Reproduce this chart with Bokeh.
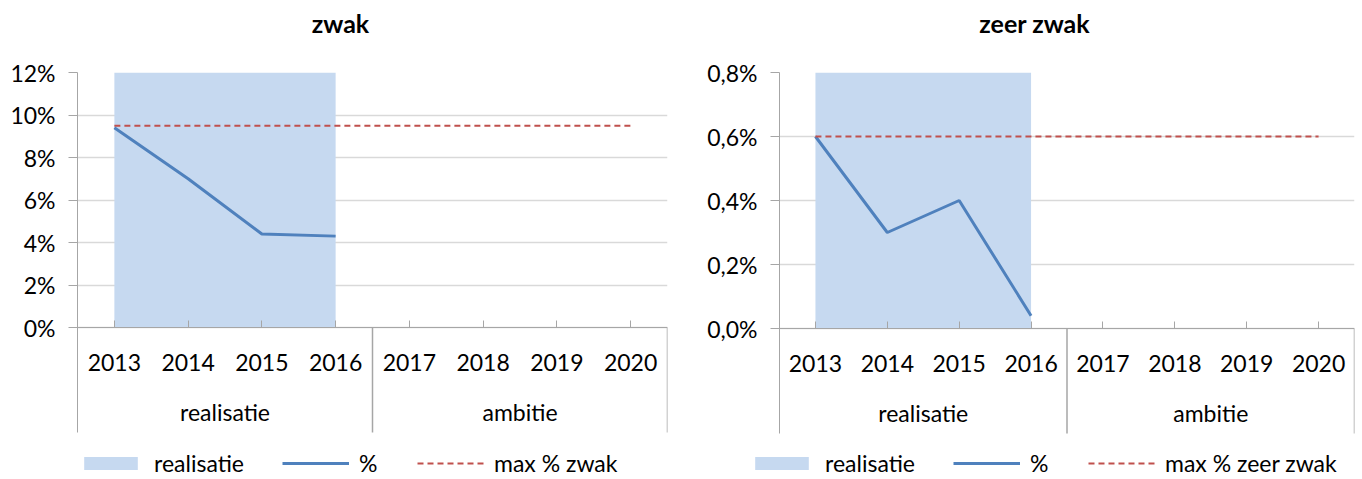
import numpy as np
from bokeh.plotting import figure
from bokeh.models import (FactorRange, Range1d, FixedTicker, CustomJSTickFormatter,
                          Legend, LegendItem, Div)
from bokeh.layouts import row, column
from bokeh.embed import file_html
from bokeh.resources import INLINE
from bokeh.core.properties import value

# ---------------- data ----------------
years = ["2013", "2014", "2015", "2016", "2017", "2018", "2019", "2020"]
groups = ["realisatie", "realisatie", "realisatie", "realisatie",
          "ambitie", "ambitie", "ambitie", "ambitie"]

nan = float("nan")
zwak_realisatie = [12, 12, 12, 12, nan, nan, nan, nan]
zwak_pct = [9.4, 7.0, 4.4, 4.3, nan, nan, nan, nan]
zwak_max = [9.5, 9.5, 9.5, 9.5, 9.5, 9.5, 9.5, 9.5]
zwak_ticks = [0, 2, 4, 6, 8, 10, 12]

zeer_realisatie = [0.8, 0.8, 0.8, 0.8, nan, nan, nan, nan]
zeer_pct = [0.6, 0.3, 0.4, 0.04, nan, nan, nan, nan]
zeer_max = [0.6, 0.6, 0.6, 0.6, 0.6, 0.6, 0.6, 0.6]
zeer_ticks = [0, 0.2, 0.4, 0.6, 0.8]

legend_labels_zwak = ["realisatie", "%", "max % zwak"]
legend_labels_zeer = ["realisatie", "%", "max % zeer zwak"]

FONT = "Lato"
FS = "23px"
AXIS_COL = "#a6a6a6"
GRID_COL = "#d9d9d9"
AREA_COL = "#c6d9f0"
BLUE = "#4f81bd"
RED = "#c0504d"

TITLE_H = 40     # title strip height
FIG_H = 408      # chart figure height
LEG_H = 30       # legend strip height
TOP = 32         # frame top inside chart figure


def make_chart(realisatie, pct, maxv, ticks, decimals,
               border_left, frame_w, border_right, px_per_unit):
    width = border_left + frame_w + border_right
    frame_h = FIG_H - TOP
    y_lo = ticks[-1] - frame_h / px_per_unit
    sep_lo = -105 / px_per_unit
    grp_y = -84 / px_per_unit
    p = figure(width=width, height=FIG_H, output_backend="svg", toolbar_location=None,
               x_range=FactorRange(factors=years, range_padding=0, factor_padding=0),
               y_range=Range1d(y_lo, ticks[-1]),
               min_border_left=border_left, min_border_right=border_right,
               min_border_top=TOP, min_border_bottom=0)
    p.outline_line_color = None
    p.background_fill_color = "white"
    p.border_fill_color = "white"

    # realisatie band
    mask = [not np.isnan(v) for v in realisatie]
    xs = [y for y, m in zip(years, mask) if m]
    p.varea(x=xs, y1=[0] * len(xs), y2=[v for v, m in zip(realisatie, mask) if m],
            fill_color=AREA_COL)
    # % line
    pm = [not np.isnan(v) for v in pct]
    p.line(x=[y for y, m in zip(years, pm) if m], y=[v for v, m in zip(pct, pm) if m],
           line_color=BLUE, line_width=3)
    # max line
    p.line(x=years, y=maxv, line_color=RED, line_width=2, line_dash="6 4")

    # group separators & labels
    bounds = [0] + [i for i in range(1, len(groups)) if groups[i] != groups[i - 1]] + [len(groups)]
    p.segment(x0=bounds[1:], y0=[0] * (len(bounds) - 1), x1=bounds[1:],
              y1=[sep_lo] * (len(bounds) - 1), line_color=AXIS_COL, line_width=1.5)
    gnames = [groups[b] for b in bounds[:-1]]
    gx = [(bounds[i] + bounds[i + 1]) / 2 for i in range(len(bounds) - 1)]
    p.text(x=gx, y=[grp_y] * len(gx), text=gnames, text_align="center",
           text_baseline="middle", text_font=value(FONT), text_font_size=FS,
           text_color="black")

    # x axis (categories) at y=0
    xa = p.xaxis[0]
    xa.fixed_location = 0
    xa.axis_line_color = AXIS_COL
    xa.major_tick_line_color = AXIS_COL
    xa.major_tick_in = 7
    xa.major_tick_out = 0
    xa.minor_tick_line_color = None
    xa.major_label_standoff = 26
    xa.major_label_text_font = FONT
    xa.major_label_text_font_size = FS
    xa.major_label_text_color = "black"

    # y axis
    ya = p.yaxis[0]
    ya.ticker = FixedTicker(ticks=ticks)
    ya.formatter = CustomJSTickFormatter(
        code="return tick.toFixed(%d).replace('.', ',') + '%%';" % decimals)
    ya.bounds = (sep_lo, ticks[-1])
    ya.axis_line_color = AXIS_COL
    ya.major_tick_line_color = AXIS_COL
    ya.major_tick_out = 9
    ya.major_tick_in = 0
    ya.minor_tick_line_color = None
    ya.major_label_standoff = 13
    ya.major_label_text_font = FONT
    ya.major_label_text_font_size = FS
    ya.major_label_text_color = "black"

    p.xgrid.visible = False
    p.ygrid.grid_line_color = GRID_COL
    p.ygrid.grid_line_width = 1.5
    return p


def make_legend(width, labels, legend_x):
    q = figure(width=width, height=LEG_H, output_backend="svg", toolbar_location=None,
               x_range=Range1d(0, 1), y_range=Range1d(0, 1),
               min_border_left=0, min_border_right=0, min_border_top=0, min_border_bottom=0)
    q.outline_line_color = None
    q.axis.visible = False
    q.grid.visible = False
    # legend-only renderers (no visible data, they just carry the styles)
    r_area = q.varea(x=[nan], y1=[nan], y2=[nan], fill_color=AREA_COL)
    r_line = q.line(x=[nan], y=[nan], line_color=BLUE, line_width=3)
    r_max = q.line(x=[nan], y=[nan], line_color=RED, line_width=2, line_dash="6 4")
    legend = Legend(items=[LegendItem(label=labels[0], renderers=[r_area]),
                           LegendItem(label=labels[1], renderers=[r_line]),
                           LegendItem(label=labels[2], renderers=[r_max])],
                    orientation="horizontal", location=(legend_x, 1),
                    border_line_color=None, background_fill_alpha=0,
                    padding=0, margin=0, spacing=38, label_standoff=10,
                    glyph_width=67, glyph_height=16,
                    label_text_font=FONT, label_text_font_size=FS,
                    label_text_color="black")
    q.add_layout(legend)
    return q


def title_div(text, width, pad_left):
    return Div(text=text, width=width, height=TITLE_H, margin=0,
               styles={"font-family": FONT, "font-weight": "bold", "font-size": "25px",
                       "text-align": "center", "line-height": "46px", "color": "black",
                       "padding-left": "%dpx" % pad_left, "box-sizing": "border-box"})


p1 = make_chart(zwak_realisatie, zwak_pct, zwak_max, zwak_ticks, 0, 77, 590, 14, 21.25)
p2 = make_chart(zeer_realisatie, zeer_pct, zeer_max, zeer_ticks, 1, 98, 575, 6, 320)

l1 = make_legend(p1.width, legend_labels_zwak, 77)
l2 = make_legend(p2.width, legend_labels_zeer, 67)

t1 = title_div("zwak", p1.width, 0)
t2 = title_div("zeer zwak", p2.width, 28)

layout = column(row(t1, t2), row(p1, p2), row(l1, l2))
open("out.html", "w").write(file_html(layout, INLINE))
